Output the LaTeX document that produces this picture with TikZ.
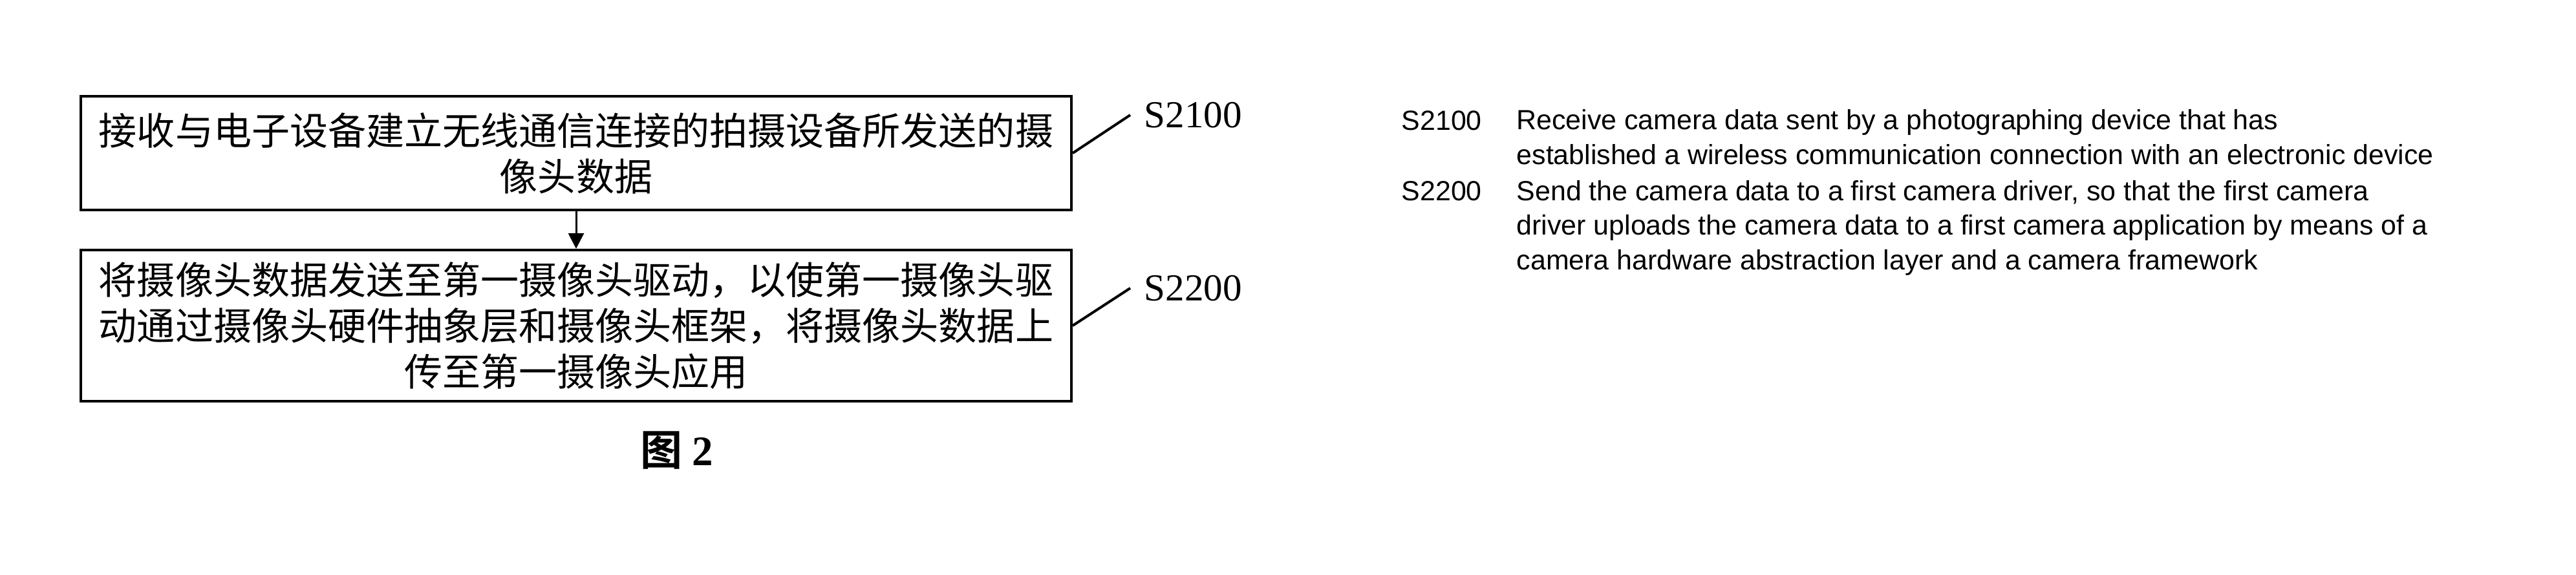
\documentclass[tikz,border=0pt]{standalone}
\usepackage{fontspec}
\setmainfont{Liberation Serif}
\newfontfamily\cjkfont{Noto Sans CJK SC}
\newfontfamily\cjkbold{Noto Sans CJK SC Bold}
\newfontfamily\enfont{Liberation Sans}
\usetikzlibrary{arrows.meta,positioning}
\def\boxfont{\cjkfont\fontsize{16.8}{20.2}\selectfont}
\def\enfontsize{\enfont\fontsize{12.2}{15.1}\selectfont}
\tikzset{
    stepbox/.style={draw, line width=0.04cm, text width=14.82cm, align=center,
        inner xsep=0.25cm, inner ysep=0pt, font=\boxfont},
    steplabel/.style={anchor=west, inner sep=0.21cm, font=\fontsize{16.8}{20}\selectfont},
    leader/.style={line width=0.04cm},
    entext/.style={anchor=base west, inner sep=0pt, align=left, font=\enfontsize}
}

\begin{document}
\begin{tikzpicture}
    \useasboundingbox (0,0) rectangle (39.84,-8.89);
    \node[stepbox, minimum height=1.76cm] (s1) at (8.91,-2.37)
        {接收与电子设备建立无线通信连接的拍摄设备所发送的摄\\像头数据};
    \node[stepbox, minimum height=2.34cm, below=0.58cm of s1] (s2)
        {将摄像头数据发送至第一摄像头驱动，以使第一摄像头驱\\动通过摄像头硬件抽象层和摄像头框架，将摄像头数据上\\传至第一摄像头应用};
    \draw[line width=0.03cm, -{Triangle[length=0.24cm,width=0.24cm]}] (s1) -- (s2);
    \coordinate (t1) at ([shift={(0.89,0.59)}]s1.east);
    \coordinate (t2) at ([shift={(0.89,0.58)}]s2.east);
    \node[steplabel] (l1) at (t1) {S2100};
    \node[steplabel] (l2) at (t2) {S2200};
    \draw[leader] (s1.east) -- (t1);
    \draw[leader] (s2.east) -- (t2);
    \node[anchor=base west, inner sep=0pt] (cap) at (9.90,-7.20)
        {\fontsize{18.5}{20}\selectfont\cjkbold 图 \bfseries\rmfamily 2};
    \node[entext] (k1) at (21.67,-2.01) {S2100};
    \node[entext] (d1) at (23.45,-2.54) {Receive camera data sent by a photographing device that has\\established a wireless communication connection with an electronic device};
    \node[entext] (k2) at (21.67,-3.10) {S2200};
    \node[entext] (d2) at (23.45,-4.17) {Send the camera data to a first camera driver, so that the first camera\\driver uploads the camera data to a first camera application by means of a\\camera hardware abstraction layer and a camera framework};
\end{tikzpicture}
\end{document}
